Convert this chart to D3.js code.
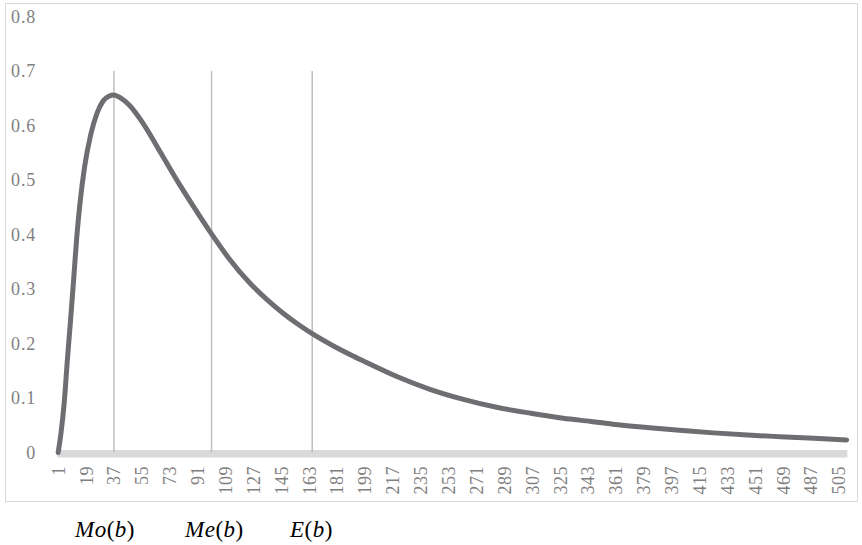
<!DOCTYPE html>
<html>
<head>
<meta charset="utf-8">
<script src="https://cdn.jsdelivr.net/npm/d3@7"></script>
<style>
  html, body { margin: 0; padding: 0; background: #fff; }
  svg { display: block; }
  .lbl { font-family: "Liberation Serif", "DejaVu Serif", "Noto Serif", serif; }
</style>
</head>
<body>
<svg id="chart" width="862" height="545"></svg>
<script>
// ---- data ----
const curveX = [1, 3, 5, 7, 9, 11, 13, 15, 18, 22, 26, 30, 34, 37, 41, 47, 56, 67, 78, 88, 100, 111, 125, 136, 146, 157, 165, 179, 190, 198, 220, 241, 262, 284, 306, 327, 345, 359, 381, 402, 424, 446, 467, 489, 510];
const curveY = [0, 0.04, 0.095, 0.172, 0.243, 0.318, 0.395, 0.455, 0.523, 0.583, 0.622, 0.645, 0.654, 0.656, 0.651, 0.637, 0.603, 0.551, 0.498, 0.453, 0.401, 0.357, 0.310, 0.280, 0.256, 0.233, 0.218, 0.195, 0.179, 0.168, 0.139, 0.116, 0.098, 0.083, 0.072, 0.063, 0.057, 0.052, 0.046, 0.041, 0.036, 0.032, 0.029, 0.026, 0.023];
const markerX = [37, 100, 165];
const markerTop = [0.7, 0.7, 0.7];
const markerNames = [["Mo", "b"], ["Me", "b"], ["E", "b"]];
const xTickLabels = [1, 19, 37, 55, 73, 91, 109, 127, 145, 163, 181, 199, 217, 235, 253, 271, 289, 307, 325, 343, 361, 379, 397, 415, 433, 451, 469, 487, 505];
const yTickLabels = [0, 0.1, 0.2, 0.3, 0.4, 0.5, 0.6, 0.7, 0.8];
const categoryCount = 510;

// ---- layout ----
const svg = d3.select("#chart");
const plotLeft = 57.4, plotRight = 847.4;
const x = d3.scaleLinear().domain([0.5, categoryCount + 0.5]).range([plotLeft, plotRight]);
const y = d3.scaleLinear().domain([0, 0.8]).range([452.5, 16.5]);

// outer border
svg.append("rect")
  .attr("x", 5.5).attr("y", 3.5).attr("width", 852).attr("height", 498)
  .attr("fill", "#fff").attr("stroke", "#d9d9d9").attr("stroke-width", 1);

// y axis labels
const yAxis = d3.axisLeft(y).tickValues(yTickLabels).tickSize(0).tickPadding(0)
  .tickFormat(d => d === 0 ? "0" : d3.format(".1f")(d));
const gy = svg.append("g").attr("transform", "translate(36,0)").call(yAxis)
  .attr("font-family", null).attr("font-size", null);
gy.select(".domain").remove();
gy.selectAll("text")
  .attr("class", "lbl").attr("font-size", 18).attr("fill", "#7f7f7f")
  .attr("letter-spacing", "0.8px").attr("dy", "0.33em");

// x axis band (thick light grey axis line)
svg.append("rect")
  .attr("x", plotLeft).attr("y", 450).attr("width", plotRight - plotLeft).attr("height", 7.5)
  .attr("fill", "#d9d9d9");

// x axis labels (rotated)
const xAxis = d3.axisBottom(x).tickValues(xTickLabels).tickSize(0).tickPadding(0)
  .tickFormat(d => String(d));
const gx = svg.append("g").attr("transform", "translate(0,466)").call(xAxis)
  .attr("font-family", null).attr("font-size", null);
gx.select(".domain").remove();
gx.selectAll("text")
  .attr("class", "lbl").attr("font-size", 18).attr("fill", "#7f7f7f")
  .attr("letter-spacing", "0.5px")
  .attr("text-anchor", "end")
  .attr("transform", "rotate(-90)")
  .attr("x", 0).attr("y", 0).attr("dy", "0.33em");

// marker vertical lines
svg.append("g").selectAll("line").data(markerX).join("line")
  .attr("x1", d => x(d)).attr("x2", d => x(d))
  .attr("y1", (d, i) => y(markerTop[i])).attr("y2", y(0))
  .attr("stroke", "#bfbfbf").attr("stroke-width", 1.5);

// curve
const pts = curveX.map((c, i) => [c, curveY[i]]);
const line = d3.line().x(d => x(d[0])).y(d => y(d[1])).curve(d3.curveMonotoneX);
svg.append("path").datum(pts)
  .attr("d", line)
  .attr("fill", "none").attr("stroke", "#6d6e71").attr("stroke-width", 5)
  .attr("stroke-linecap", "round").attr("stroke-linejoin", "round");

// bottom italic labels
const nameX = [75, 185, 290];
const names = svg.append("g").attr("class", "lbl").attr("font-size", 23).attr("fill", "#000");
markerNames.forEach((n, i) => {
  const t = names.append("text").attr("x", nameX[i]).attr("y", 537).attr("letter-spacing", "0.5px");
  t.append("tspan").attr("font-style", "italic").text(n[0]);
  t.append("tspan").text("(");
  t.append("tspan").attr("font-style", "italic").text(n[1]);
  t.append("tspan").text(")");
});
</script>
</body>
</html>
